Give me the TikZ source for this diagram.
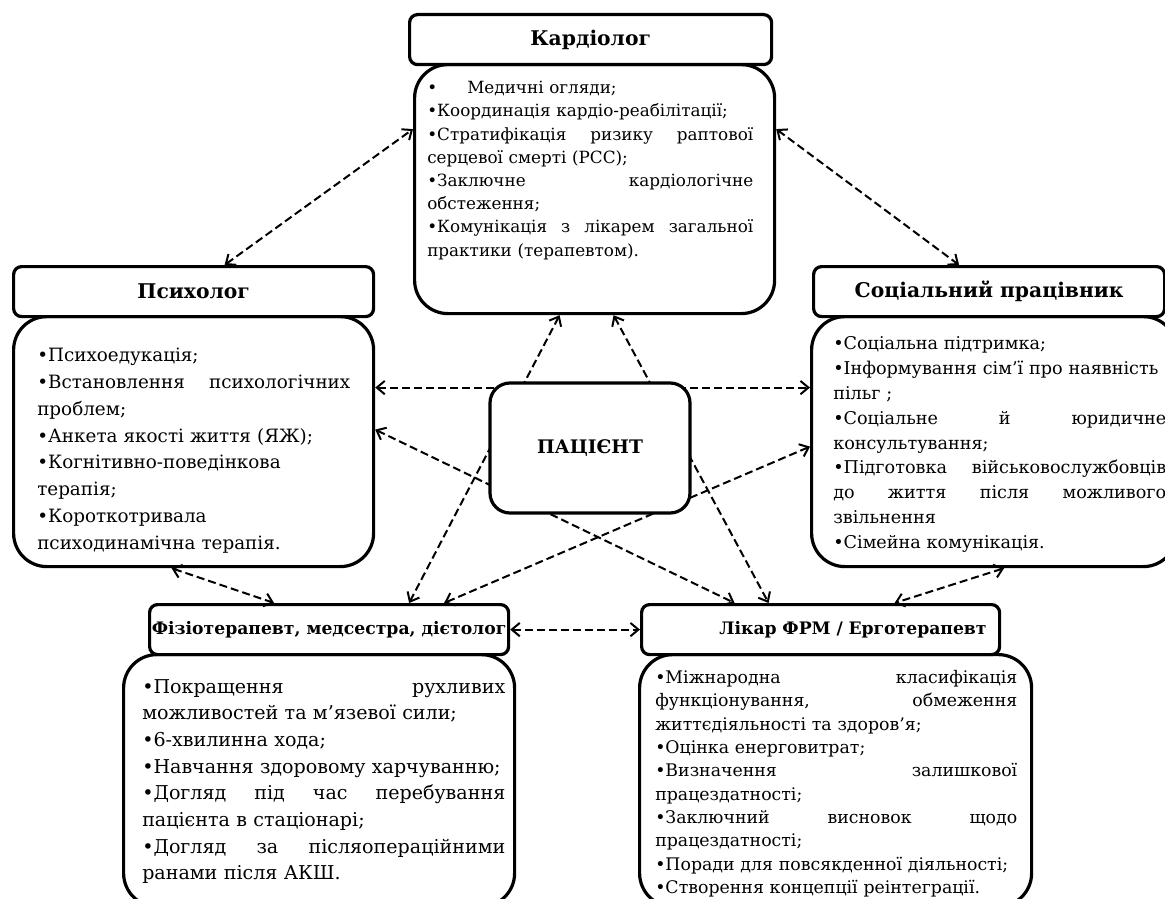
\documentclass[tikz,border=0pt]{standalone}
\usepackage{fontspec}
\setmainfont{DejaVu Serif}
\usetikzlibrary{arrows.meta,calc}
\begin{document}
\begin{tikzpicture}[x=0.75pt,y=-0.75pt,
  hd/.style={draw, line width=2.4pt, rounded corners=6pt, fill=white, anchor=north west, inner sep=0pt, minimum height=37.5pt},
  bd/.style={draw, line width=2.4pt, rounded corners=25pt, fill=white, anchor=north west, inner sep=0pt},
  txt/.style={anchor=north west, inner sep=0pt, align=left},
  conn/.style={line width=1.5pt, dash pattern=on 6pt off 3pt, {Straight Barb[length=6pt,width=10pt]}-{Straight Barb[length=6pt,width=10pt]}},
]
\useasboundingbox (0,0) rectangle (1165,899);
\clip (0,0) rectangle (1165,899);
\fill[white] (0,0) rectangle (1165,899);

% bodies
\node[bd, minimum width=270pt, minimum height=186.75pt] (kb) at (413,63) {};
\node[bd, minimum width=270pt, minimum height=187.5pt] (pb) at (12,315) {};
\node[bd, minimum width=273.75pt, minimum height=187.5pt] (sb) at (810,315) {};
\node[bd, minimum width=293.25pt, minimum height=189pt] (fb) at (122,653) {};
\node[bd, minimum width=294pt, minimum height=189pt] (lb) at (638,653) {};

% headers
\node[hd, minimum width=271.5pt, font=\fontsize{15.2pt}{18pt}\selectfont\bfseries] (kh) at (408,13) {Кардіолог};
\node[hd, minimum width=270pt, font=\fontsize{15.2pt}{18pt}\selectfont\bfseries] (ph) at (12,265) {Психолог};
\node[hd, minimum width=263.25pt, font=\fontsize{15.2pt}{18pt}\selectfont\bfseries] (sh) at (812,265) {Соціальний працівник};
\node[hd, minimum width=269.25pt, font=\fontsize{12.9pt}{15pt}\selectfont\bfseries] (fh) at (148,603) {Фізіотерапевт, медсестра, дієтолог};
\node[hd, minimum width=268.5pt, text width=249pt, inner xsep=9.75pt, align=right, font=\fontsize{12.9pt}{15pt}\selectfont\bfseries] (lh) at (640,603) {Лікар ФРМ / Ерготерапевт};

% texts
\node[txt, text width=244.5pt, font=\fontsize{12.6pt}{17.4pt}\selectfont] (kt) at (427,81) {%
\makebox[30pt][l]{•}Медичні огляди;\\
•Координація кардіо-реабілітації;\\
•Стратифікація\hfill ризику\hfill раптової\\
серцевої смерті (РСС);\\
•Заключне\hfill кардіологічне\\
обстеження;\\
•Комунікація\hfill з\hfill лікарем\hfill загальної\\
практики (терапевтом).};

\node[txt, text width=234.75pt, font=\fontsize{13.75pt}{20.1pt}\selectfont] (pt) at (37,348) {%
•Психоедукація;\\
•Встановлення\hfill психологічних\\
проблем;\\
•Анкета якості життя (ЯЖ);\\
•Когнітивно-поведінкова\\
терапія;\\
•Короткотривала\\
психодинамічна терапія.};

\node[txt, text width=249.75pt, font=\fontsize{13.2pt}{18.6pt}\selectfont] (st) at (833,336.5) {%
•Соціальна підтримка;\\
•Інформування сім'ї про наявність\\
пільг ;\\
•Соціальне\hfill й\hfill юридичне\\
консультування;\\
•Підготовка\hfill військовослужбовців\\
до\hfill життя\hfill після\hfill можливого\\
звільнення\\
•Сімейна комунікація.};

\node[txt, text width=272.25pt, font=\fontsize{14.3pt}{20pt}\selectfont] (ft) at (142,679) {%
•Покращення\hfill рухливих\\
можливостей та м'язевої сили;\\
•6-хвилинна хода;\\
•Навчання здоровому харчуванню;\\
•Догляд\hfill під\hfill час\hfill перебування\\
пацієнта в стаціонарі;\\
•Догляд\hfill за\hfill післяопераційними\\
ранами після АКШ.};

\node[txt, text width=271.5pt, font=\fontsize{13pt}{17.5pt}\selectfont] (lt) at (655,670) {%
•Міжнародна\hfill класифікація\\
функціонування,\hfill обмеження\\
життєдіяльності та здоров’я;\\
•Оцінка енерговитрат;\\
•Визначення\hfill залишкової\\
працездатності;\\
•Заключний\hfill висновок\hfill щодо\\
працездатності;\\
•Поради для повсякденної діяльності;\\
•Створення концепції реінтеграції.};

% connectors
\draw[conn] ($(ph.north)+(31,0)$) -- ($(kb.west)+(0,-60)$);
\draw[conn] ($(kb.east)+(0,-60)$) -- ($(sh.north)+(-30,0)$);
\draw[conn] ($(kb.south)+(-35,0)$) -- ($(fh.north)+(80,0)$);
\draw[conn] ($(kb.south)+(19,0)$) -- ($(lh.north)+(-52,0)$);
\draw[conn] ($(pb.east)+(0,-54)$) -- ($(sb.west)+(0,-54)$);
\draw[conn] ($(pb.east)+(0,-12)$) -- ($(lh.north)+(-86,0)$);
\draw[conn] ($(sb.west)+(0,5)$) -- ($(fh.north)+(115,0)$);
\draw[conn] ($(pb.south)+(-22,0)$) -- ($(fh.north)+(-55,0)$);
\draw[conn] ($(sb.south)+(10,0)$) -- ($(lh.north)+(74,0)$);
\draw[conn] (fh.east) -- (lh.west);

% patient
\node[draw, line width=2.4pt, rounded corners=15pt, fill=white, minimum width=150pt, minimum height=97.5pt, inner sep=0pt, font=\fontsize{14pt}{17pt}\selectfont\bfseries] (pat) at (590,448) {ПАЦІЄНТ};
\end{tikzpicture}
\end{document}
